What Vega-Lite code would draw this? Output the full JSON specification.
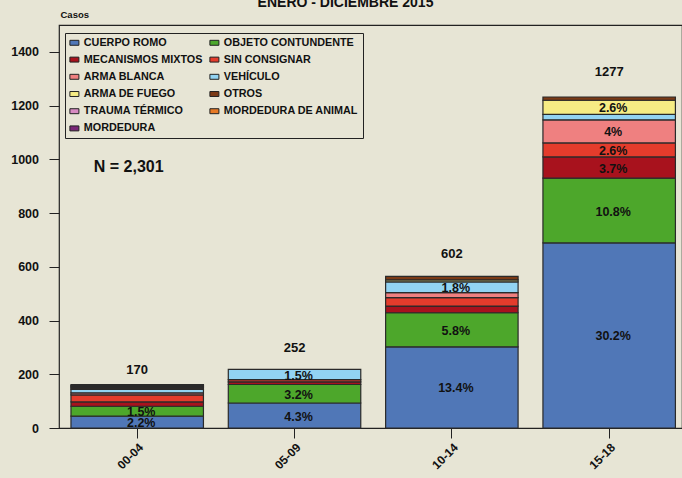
{
  "$schema": "https://vega.github.io/schema/vega-lite/v6.json",
  "autosize": {"type": "none"},
  "padding": {"left": 59, "top": 25, "right": 0, "bottom": 50},
  "width": 623,
  "height": 403,
  "background": "#E7E5D5",
  "title": {"text": "ENERO - DICIEMBRE 2015", "fontSize": 14, "fontWeight": "bold", "font": "Liberation Sans", "color": "#111111", "anchor": "middle", "frame": "group", "offset": 0, "dx": -25, "dy": 12, "baseline": "alphabetic"},
  "config": {
    "font": "Liberation Sans",
    "view": {"stroke": "#222222", "strokeWidth": 1.2},
    "axis": {"grid": false, "domain": false, "tickColor": "#222222", "tickWidth": 1, "labelColor": "#111111", "labelFontWeight": "bold", "labelFont": "Liberation Sans"}
  },
  "datasets": {
    "segmentos": [
      {"grupo": "00-04", "causa": "CUERPO ROMO", "casos": 44, "pct": "2.2%"},
      {"grupo": "00-04", "causa": "OBJETO CONTUNDENTE", "casos": 37, "pct": "1.5%"},
      {"grupo": "00-04", "causa": "MECANISMOS MIXTOS", "casos": 16},
      {"grupo": "00-04", "causa": "SIN CONSIGNAR", "casos": 26},
      {"grupo": "00-04", "causa": "ARMA BLANCA", "casos": 8},
      {"grupo": "00-04", "causa": "VEHÍCULO", "casos": 13},
      {"grupo": "00-04", "causa": "ARMA DE FUEGO", "casos": 4},
      {"grupo": "00-04", "causa": "OTROS", "casos": 3},
      {"grupo": "00-04", "causa": "TRAUMA TÉRMICO", "casos": 4},
      {"grupo": "00-04", "causa": "MORDEDURA DE ANIMAL", "casos": 3},
      {"grupo": "00-04", "causa": "MORDEDURA", "casos": 4},
      {"grupo": "05-09", "causa": "CUERPO ROMO", "casos": 93, "pct": "4.3%"},
      {"grupo": "05-09", "causa": "OBJETO CONTUNDENTE", "casos": 69, "pct": "3.2%"},
      {"grupo": "05-09", "causa": "MECANISMOS MIXTOS", "casos": 10},
      {"grupo": "05-09", "causa": "SIN CONSIGNAR", "casos": 8},
      {"grupo": "05-09", "causa": "VEHÍCULO", "casos": 38, "pct": "1.5%"},
      {"grupo": "10-14", "causa": "CUERPO ROMO", "casos": 302, "pct": "13.4%"},
      {"grupo": "10-14", "causa": "OBJETO CONTUNDENTE", "casos": 127, "pct": "5.8%"},
      {"grupo": "10-14", "causa": "MECANISMOS MIXTOS", "casos": 25},
      {"grupo": "10-14", "causa": "SIN CONSIGNAR", "casos": 31},
      {"grupo": "10-14", "causa": "ARMA BLANCA", "casos": 19},
      {"grupo": "10-14", "causa": "VEHÍCULO", "casos": 40, "pct": "1.8%"},
      {"grupo": "10-14", "causa": "ARMA DE FUEGO", "casos": 7},
      {"grupo": "10-14", "causa": "OTROS", "casos": 13},
      {"grupo": "15-18", "causa": "CUERPO ROMO", "casos": 689, "pct": "30.2%"},
      {"grupo": "15-18", "causa": "OBJETO CONTUNDENTE", "casos": 241, "pct": "10.8%"},
      {"grupo": "15-18", "causa": "MECANISMOS MIXTOS", "casos": 79, "pct": "3.7%"},
      {"grupo": "15-18", "causa": "SIN CONSIGNAR", "casos": 52, "pct": "2.6%"},
      {"grupo": "15-18", "causa": "ARMA BLANCA", "casos": 86, "pct": "4%"},
      {"grupo": "15-18", "causa": "VEHÍCULO", "casos": 20},
      {"grupo": "15-18", "causa": "ARMA DE FUEGO", "casos": 53, "pct": "2.6%"},
      {"grupo": "15-18", "causa": "OTROS", "casos": 12}
    ],
    "totales": [
      {"grupo": "00-04", "total": 170},
      {"grupo": "05-09", "total": 252},
      {"grupo": "10-14", "total": 602},
      {"grupo": "15-18", "total": 1277}
    ]
  },
  "layer": [
    {
      "data": {"name": "segmentos"},
      "transform": [
        {"calculate": "indexof(['CUERPO ROMO','OBJETO CONTUNDENTE','MECANISMOS MIXTOS','SIN CONSIGNAR','ARMA BLANCA','VEHÍCULO','ARMA DE FUEGO','OTROS','TRAUMA TÉRMICO','MORDEDURA DE ANIMAL','MORDEDURA'], datum.causa)", "as": "orden"},
        {"stack": "casos", "groupby": ["grupo"], "sort": [{"field": "orden", "order": "ascending"}], "as": ["y0", "y1"]},
        {"calculate": "(datum.y0 + datum.y1) / 2", "as": "ymid"}
      ],
      "layer": [
        {
          "mark": {"type": "bar", "stroke": "#2a2a2a", "strokeWidth": 1.2, "opacity": 1},
          "encoding": {
            "x": {"field": "grupo", "type": "nominal", "sort": ["00-04", "05-09", "10-14", "15-18"], "title": null,
                  "scale": {"paddingInner": 0.158, "paddingOuter": 0.059, "align": 0.645},
                  "axis": {"labelAngle": -45, "labelAlign": "right", "labelBaseline": "middle", "labelFontSize": 12, "tickSize": 10, "labelPadding": 7, "labelOffset": 4}},
            "y": {"field": "y1", "type": "quantitative", "title": "Casos",
                  "scale": {"domain": [0, 1500], "nice": false, "zero": true},
                  "axis": {"values": [0, 200, 400, 600, 800, 1000, 1200, 1400], "format": "d", "labelFontSize": 12.5, "tickSize": 10, "labelPadding": 10.5,
                           "titleAngle": 0, "titleAlign": "left", "titleBaseline": "middle", "titleX": 1, "titleY": -11, "titleFontSize": 9.5, "titleFontWeight": "bold", "titleColor": "#111111", "titleFont": "Liberation Sans"}},
            "y2": {"field": "y0"},
            "color": {"field": "causa", "type": "nominal",
                      "scale": {"domain": ["CUERPO ROMO", "MECANISMOS MIXTOS", "ARMA BLANCA", "ARMA DE FUEGO", "TRAUMA TÉRMICO", "MORDEDURA", "OBJETO CONTUNDENTE", "SIN CONSIGNAR", "VEHÍCULO", "OTROS", "MORDEDURA DE ANIMAL"],
                                "range": ["#5077B7", "#A8121D", "#EF8080", "#F6EC84", "#D88BC2", "#7A2777", "#4DA72B", "#E43C2C", "#92D3F2", "#7B3A16", "#E77A26"]},
                      "legend": {"orient": "none", "legendX": 6, "legendY": 8, "columns": 2, "title": null,
                                 "symbolType": "M-1,-0.55H1V0.55H-1Z", "symbolSize": 81, "symbolStrokeColor": "#222222", "symbolStrokeWidth": 1, "symbolOpacity": 1,
                                 "labelFont": "Liberation Sans", "labelFontWeight": "bold", "labelFontSize": 10.8, "labelColor": "#111111", "labelLimit": 300, "labelOffset": 4,
                                 "columnPadding": 4, "rowPadding": 5.2, "padding": 4, "strokeColor": "#222222", "fillColor": "#E7E5D5", "cornerRadius": 0}}
          }
        },
        {
          "transform": [{"filter": "isValid(datum.pct)"}],
          "mark": {"type": "text", "fontSize": 12.5, "fontWeight": "bold", "color": "#111111", "baseline": "middle", "dx": 4, "dy": 1},
          "encoding": {
            "x": {"field": "grupo", "type": "nominal", "sort": ["00-04", "05-09", "10-14", "15-18"]},
            "y": {"field": "ymid", "type": "quantitative", "title": "Casos"},
            "text": {"field": "pct", "type": "nominal"}
          }
        }
      ]
    },
    {
      "data": {"name": "totales"},
      "mark": {"type": "text", "fontSize": 13, "fontWeight": "bold", "color": "#111111", "baseline": "middle", "dy": -12.5},
      "encoding": {
        "x": {"field": "grupo", "type": "nominal", "sort": ["00-04", "05-09", "10-14", "15-18"]},
        "y": {"field": "total", "type": "quantitative", "title": "Casos"},
        "text": {"field": "total", "type": "quantitative", "format": "d"}
      }
    },
    {
      "data": {"values": [{"etiqueta": "N = 2,301"}]},
      "mark": {"type": "text", "fontSize": 16, "fontWeight": "bold", "color": "#111111", "baseline": "middle", "align": "center", "dx": -8.5},
      "encoding": {
        "x": {"datum": "00-04", "type": "nominal"},
        "y": {"datum": 971, "type": "quantitative"},
        "text": {"field": "etiqueta", "type": "nominal"}
      }
    }
  ]
}
